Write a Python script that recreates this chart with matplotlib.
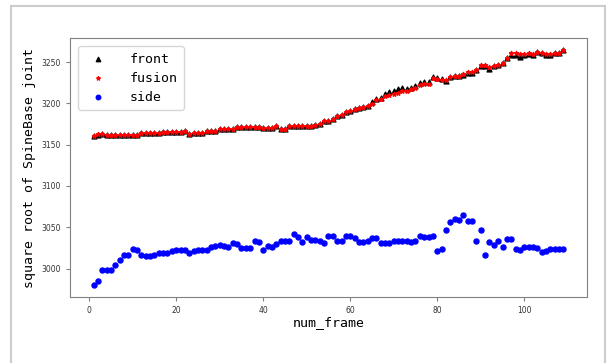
import matplotlib.pyplot as plt
from matplotlib.patches import Rectangle

# frame numbers 1..109
num_frame = list(range(1, 110))

side = [
    2980, 2985, 2998, 2998, 2998, 3004, 3010, 3016.5, 3016, 3024,
    3022, 3016.5, 3015, 3015, 3017, 3018.5, 3018.5, 3018.5, 3021.7, 3023,
    3023, 3023, 3019, 3021, 3023, 3023, 3022, 3026, 3027, 3028,
    3027, 3026, 3031, 3030, 3025, 3025, 3025, 3033, 3032, 3022,
    3027.5, 3026, 3030, 3034, 3034, 3034, 3042.5, 3038.5, 3032.5, 3038,
    3035, 3035, 3034, 3031, 3039, 3039, 3033, 3033, 3039, 3039,
    3037, 3032, 3032, 3034, 3037, 3037, 3030.5, 3031, 3030.5, 3034,
    3034, 3034, 3033, 3032, 3033, 3040, 3038, 3038, 3040, 3021,
    3024, 3047, 3057, 3060, 3059, 3065, 3058, 3058, 3033, 3046.6,
    3016.5, 3032.5, 3028, 3033, 3026, 3036, 3036, 3024, 3022, 3026,
    3026, 3026, 3024.5, 3020.5, 3021, 3024, 3024, 3024, 3024,
]

fusion = [
    3161, 3162.6, 3162.6, 3161.4, 3161.4, 3161.4, 3161.4, 3161.4, 3161.4, 3161.4,
    3161.4, 3164, 3164, 3164, 3164, 3164, 3165.5, 3165.5, 3165.5, 3165.5,
    3165.5, 3166, 3162.6, 3164, 3164, 3164, 3167, 3167, 3167, 3169.5,
    3168.7, 3168.7, 3168.7, 3171, 3171, 3171, 3171, 3171, 3171, 3170.7,
    3170.7, 3170.7, 3172.7, 3169.5, 3169.5, 3172, 3172, 3172, 3172, 3172,
    3172, 3174, 3175.5, 3178.7, 3178.7, 3181.5, 3184.7, 3185.5, 3189.5, 3190.4,
    3192.8, 3194.4, 3195, 3196.8, 3199.6, 3203.6, 3204.8, 3208.8, 3210, 3211.6,
    3212.8, 3214.8, 3214.8, 3216.8, 3218.8, 3222.8, 3224, 3224, 3230.5, 3229.7,
    3228.5, 3228, 3232.1, 3232.9, 3232.9, 3235.7, 3237.7, 3238, 3240, 3246.8,
    3246.8, 3244, 3245.6, 3246.8, 3248.8, 3254.4, 3260.4, 3260.4, 3259.2, 3260,
    3260.4, 3259.5, 3262.6, 3260.4, 3259.5, 3259.5, 3261, 3261, 3264.7,
]

front = [
    3160, 3162, 3162.6, 3161.4, 3161.4, 3161.4, 3161.4, 3161.4, 3161.4, 3161.4,
    3161.4, 3164, 3164, 3164, 3164, 3164, 3165.5, 3165.5, 3165.5, 3165.5,
    3165.5, 3166, 3162.6, 3164, 3164, 3164, 3167, 3167, 3167, 3169.5,
    3168.7, 3168.7, 3168.7, 3171, 3171, 3171, 3171, 3171, 3171, 3170.7,
    3170.7, 3170.7, 3172.7, 3169.5, 3169.5, 3172, 3172, 3172, 3172, 3172,
    3172, 3174, 3175.5, 3178.7, 3178.7, 3181.5, 3184.7, 3185.5, 3189.5, 3190.4,
    3192.8, 3194.4, 3195, 3196.8, 3201.6, 3205.6, 3206.4, 3211.6, 3214, 3215.2,
    3217.2, 3218.4, 3217.2, 3218.4, 3220.8, 3224.4, 3225.6, 3225.6, 3231.3, 3230.5,
    3229, 3227, 3232.1, 3232.9, 3232.9, 3234.9, 3236.9, 3236.9, 3240, 3245.6,
    3245.6, 3241.7, 3245.6, 3246.8, 3248.8, 3254.4, 3258.8, 3258.8, 3256, 3258.4,
    3259.6, 3259, 3262.6, 3260.4, 3259, 3259, 3261, 3261, 3264,
]

fig = plt.figure(figsize=(6.11, 3.63), dpi=100)
ax = fig.add_axes([0.1146, 0.182, 0.846, 0.713])

ax.scatter(num_frame, front, marker='^', color='black', s=12, label='front')
ax.scatter(num_frame, fusion, marker='*', color='red', s=9, label='fusion')
ax.scatter(num_frame, side, marker='o', color='blue', s=13, label='side')

ax.set_xlabel('num_frame', fontsize=9.5, family='DejaVu Sans Mono', labelpad=1)
ax.set_ylabel('square root of SpineBase joint', fontsize=9.5,
              family='DejaVu Sans Mono', labelpad=4)
ax.tick_params(labelsize=5.5, length=3, color='#808080', labelcolor='#333333')
for sp in ax.spines.values():
    sp.set_color('#808080')

leg = ax.legend(loc='upper left', prop={'family': 'DejaVu Sans Mono', 'size': 9.5},
                markerscale=0.9, handletextpad=1.4, borderpad=0.5,
                labelspacing=0.45, borderaxespad=0.6)

# grey outer frame (cut at the bottom of the picture)
fig.patches.append(Rectangle((11 / 611, -0.2), 594 / 611, 1.2 - 6 / 363,
                             transform=fig.transFigure, fill=False,
                             edgecolor='#cccccc', linewidth=1.5))

fig.savefig('out.png', dpi=100)
